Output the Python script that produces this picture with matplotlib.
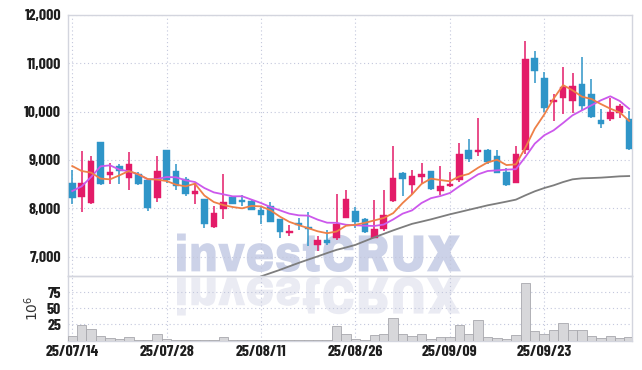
import numpy as np
import matplotlib
matplotlib.use("Agg")
import matplotlib.pyplot as plt
from matplotlib.textpath import TextPath
from matplotlib.patches import PathPatch
from matplotlib.font_manager import FontProperties
from matplotlib.transforms import Affine2D

# ---------------- data ----------------
open_ = [8517, 8234, 8110, 9366, 8689, 8869, 8635, 8704, 8594, 8221,
         9200, 8766, 8600, 8296, 8192, 7613, 7979, 8234, 8165, 8145,
         7958, 8056, 7772, 7482, 7683, 7621, 7240, 7337, 7393, 7799,
         7938, 7787, 7393, 7571, 8151, 8731, 8490, 8648, 8766, 8352,
         8462, 8580, 9200, 9159, 9200, 9076, 8745, 8524, 9200, 11105,
         10705, 10200, 10283, 10221, 10567, 10374, 9821, 9848, 9972, 9842]
high = [8786, 9186, 9076, 9380, 8938, 8925, 9174, 8760, 8600, 9076,
        9207, 8911, 8648, 8524, 8200, 8041, 8718, 8240, 8275, 8165,
        8020, 8130, 7780, 7654, 7807, 7932, 7435, 7544, 8290, 8387,
        8020, 7793, 8180, 8387, 9283, 8745, 8801, 8946, 8780, 8869,
        8751, 9360, 9443, 9877, 9235, 9200, 8842, 9298, 11457, 11250,
        10815, 10374, 10925, 10800, 11132, 10685, 10064, 10291, 10167, 10007]
low = [8097, 7917, 8090, 8490, 8511, 8497, 8372, 8490, 7944, 8124,
       8524, 8387, 8248, 8097, 7586, 7593, 7787, 8083, 8041, 7965,
       7683, 7710, 7393, 7420, 7559, 7213, 7116, 7240, 7352, 7790,
       7593, 7496, 7380, 7531, 8138, 8245, 8290, 8524, 8386, 8276,
       8441, 8535, 8960, 9076, 8924, 8724, 8462, 8517, 9132, 10594,
       9993, 9807, 9960, 9972, 10043, 9863, 9662, 9807, 9863, 9214]
close = [8213, 8517, 8973, 8503, 8745, 8780, 8911, 8503, 8000, 8766,
         8594, 8455, 8296, 8352, 7675, 7903, 8139, 8089, 8124, 7973,
         7855, 7716, 7509, 7509, 7654, 7571, 7337, 7282, 7683, 8201,
         7716, 7509, 7580, 7869, 8635, 8606, 8662, 8718, 8407, 8455,
         8503, 9118, 9020, 9200, 8958, 8731, 8476, 9118, 11099, 10842,
         10070, 10250, 10505, 10540, 10126, 9890, 9753, 9993, 10111, 9227]
ma5 = [8875, 8772, 8739, 8615, 8600, 8683, 8772, 8704, 8606, 8594,
       8565, 8490, 8455, 8510, 8265, 8130, 8068, 8027, 8000, 8050,
       8040, 7960, 7828, 7720, 7652, 7590, 7525, 7485, 7520, 7640,
       7660, 7700, 7750, 7800, 7900, 8110, 8290, 8505, 8615, 8585,
       8560, 8660, 8712, 8840, 8950, 9005, 8895, 8910, 9255, 9650,
       9940, 10271, 10550, 10442, 10310, 10262, 10158, 10062, 9985, 9808]
ma10 = [8358, 8455, 8648, 8869, 8890, 8801, 8766, 8704, 8600, 8606,
        8648, 8642, 8580, 8544, 8420, 8330, 8290, 8248, 8250, 8180,
        8110, 8027, 7958, 7890, 7855, 7849, 7766, 7703, 7700, 7660,
        7650, 7640, 7635, 7665, 7770, 7890, 7958, 8110, 8210, 8255,
        8317, 8455, 8580, 8704, 8772, 8786, 8801, 8810, 9062, 9339,
        9511, 9614, 9766, 9925, 10028, 10132, 10235, 10318, 10221, 10060]
ma_long = [np.nan] * 20 + [
        6592, 6660, 6727, 6800, 6872, 6940, 7006, 7075, 7141, 7190,
        7244, 7322, 7400, 7472, 7544, 7612, 7679, 7725, 7772, 7824,
        7876, 7922, 7969, 8015, 8062, 8100, 8139, 8180, 8269, 8352,
        8420, 8476, 8544, 8600, 8621, 8627, 8635, 8648, 8662, 8668]
volume = [6.5, 23.9, 17.3, 6.5, 3.4, 1.8, 4.9, 0.5, 0.5, 10.0,
          2.0, 0.8, 0.6, 0.6, 0.6, 0.6, 4.9, 0.5, 0.5, 0.5,
          0.3, 0.8, 0.5, 0.3, 0.8, 0.8, 0.8, 0.8, 22.4, 10.0,
          2.3, 0.8, 8.0, 10.0, 34.2, 10.0, 6.9, 10.0, 1.8, 4.9,
          4.9, 23.9, 10.0, 31.1, 4.9, 3.4, 1.8, 8.0, 89.8, 14.2,
          10.0, 16.0, 26.5, 16.0, 16.0, 6.9, 3.4, 6.9, 3.4, 5.2]
tick_pos = [0, 10, 20, 30, 40, 50]
tick_labels = ["25/07/14", "25/07/28", "25/08/11", "25/08/26", "25/09/09", "25/09/23"]
price_ticks = [7000, 8000, 9000, 10000, 11000, 12000]
vol_ticks = [25, 50, 75]

# ---------------- style ----------------
FONT = ["Barlow Condensed", "DejaVu Sans"]
plt.rcParams["font.family"] = FONT
UP = "#e31b68"
DOWN = "#2f95c8"
GRID = "#c3c7dc"
SPINE = "#d3d5de"
TICKW = "bold"
TICKS = 11.5

W, H = 642, 370
fig = plt.figure(figsize=(W / 100, H / 100), dpi=100, facecolor="white")
ax = fig.add_axes([68 / W, 1 - 276 / H, (632 - 68) / W, (276 - 15) / H])
axv = fig.add_axes([68 / W, 1 - 340.5 / H, (632 - 68) / W, (340.5 - 276) / H], sharex=ax)
for a in (ax, axv):
    a.set_facecolor("none")
    for s in a.spines.values():
        s.set_color(SPINE)
        s.set_linewidth(1.0)
    a.grid(True, linestyle=(0, (1, 2.5)), color=GRID, linewidth=0.8)
    a.set_axisbelow(True)
    a.tick_params(length=0, labelsize=TICKS, colors="#1e1e1e")

x = np.arange(len(close))
o = np.array(open_, float)
c = np.array(close, float)
h = np.array(high, float)
l = np.array(low, float)
up = c >= o
colors = np.where(up, UP, DOWN)
bottoms = np.minimum(o, c)
heights = np.maximum(np.abs(c - o), 40)

ax.vlines(x, l, h, colors=colors, linewidth=1.1, zorder=3)
ax.bar(x, heights, bottom=bottoms, width=0.7, color=colors, edgecolor=colors,
       linewidth=0.3, zorder=4)

ax.plot(x, ma_long, color="#7d7d7d", linewidth=1.3, zorder=5)
ax.plot(x, ma10, color="#cc58ec", linewidth=1.3, zorder=5)
ax.plot(x, ma5, color="#ee8047", linewidth=1.3, zorder=6)

ax.set_ylim(6600, 12000)
ax.set_xlim(-0.45, 59.3)
ax.set_yticks(price_ticks)
ax.set_yticklabels([f"{v:,}" for v in price_ticks], fontweight=TICKW)
ax.tick_params(axis="y", pad=5)
ax.tick_params(axis="x", labelbottom=False)

axv.bar(x, volume, width=1.0, color="#d7d7da", edgecolor="#a8a8ad", linewidth=0.6, zorder=3)
axv.set_ylim(0, 100)
axv.set_yticks(vol_ticks)
axv.set_yticklabels([str(v) for v in vol_ticks], fontweight=TICKW)
axv.tick_params(axis="y", pad=5)
axv.set_xticks(tick_pos)
axv.set_xticklabels(tick_labels, fontweight=TICKW)
axv.tick_params(axis="x", pad=3)
axv.set_ylabel(r"$10^6$", fontsize=10, color="#333333", labelpad=4,
               fontfamily="DejaVu Sans")

# ---------------- watermark ----------------
tp = TextPath((0, 0), "investCRUX", size=1,
              prop=FontProperties(family=["Archivo Black", "Liberation Sans", "DejaVu Sans"],
                                  weight="bold"))
bb = tp.get_extents()
x0, x1 = 177, 461
ytop, ybase = 233.5, 272.0
sx = (x1 - x0) / bb.width
sy = (ybase - ytop) / bb.height
t_main = (Affine2D().translate(-bb.x0, -bb.y0).scale(sx, sy)
          .translate(x0, H - ybase).scale(1 / W, 1 / H) + fig.transFigure)
p1 = PathPatch(tp, facecolor="#ccd2e8", edgecolor="none", transform=t_main, zorder=-1)
fig.add_artist(p1)
rtop = 277.0
t_ref = (Affine2D().translate(-bb.x0, -bb.y0).scale(sx, -sy)
         .translate(x0, H - rtop).scale(1 / W, 1 / H) + fig.transFigure)
p2 = PathPatch(tp, facecolor="#eaebf3", edgecolor="none", transform=t_ref, zorder=-1)
fig.add_artist(p2)

fig.savefig("out.png", dpi=100, facecolor="white")
